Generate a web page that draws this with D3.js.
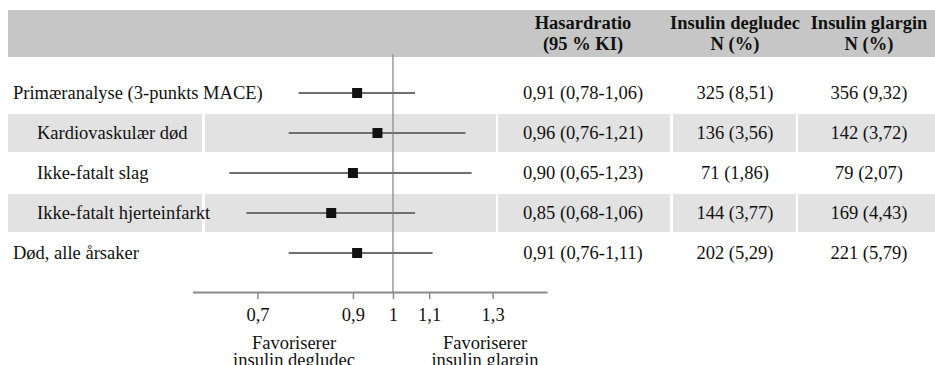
<!DOCTYPE html>
<html><head><meta charset="utf-8">
<script src="https://cdn.jsdelivr.net/npm/d3@7"></script>
<style>
html,body{margin:0;padding:0;background:#fff;}
svg text{font-family:'Liberation Serif','DejaVu Serif','Times New Roman',serif;}
</style></head>
<body><svg id="chart" width="935" height="365"></svg>
<script>
const labels = ["Primæranalyse (3-punkts MACE)", "Kardiovaskulær død", "Ikke-fatalt slag", "Ikke-fatalt hjerteinfarkt", "Død, alle årsaker"];
const indented = [false, true, true, true, false];
const hr = [0.91, 0.96, 0.90, 0.85, 0.91];
const ciLow = [0.78, 0.76, 0.65, 0.68, 0.76];
const ciHigh = [1.06, 1.21, 1.23, 1.06, 1.11];
const degludecN = [325, 136, 71, 144, 202];
const degludecPct = [8.51, 3.56, 1.86, 3.77, 5.29];
const glarginN = [356, 142, 79, 169, 221];
const glarginPct = [9.32, 3.72, 2.07, 4.43, 5.79];
const tickValues = [0.7, 0.9, 1, 1.1, 1.3];
const headers = [["Hasardratio", "(95 % KI)"], ["Insulin degludec", "N (%)"], ["Insulin glargin", "N (%)"]];
const favourLabels = [["Favoriserer", "insulin degludec"], ["Favoriserer", "insulin glargin"]];

const FONT = "Liberation Serif";
const loc = d3.formatLocale({decimal: ",", thousands: " ", grouping: [3], currency: ["", ""]});
const f2 = loc.format(".2f");
const fTick = v => String(v).replace(".", ",");

const svg = d3.select("#chart");
const FS = 18.5;

const x = d3.scaleLog().domain([0.59, 1.5]).range([192.5, 547]);
const y = d3.scaleBand().domain(d3.range(labels.length)).range([73, 273]);
const yc = i => y(i) + y.bandwidth() / 2;

const cols = [[8, 202], [205, 496], [498, 670], [673, 796], [798, 935]];
const colCenters = [583, 735, 869];

svg.append("rect").attr("x", 8).attr("y", 10).attr("width", 927).attr("height", 47).attr("fill", "#c6c6c6");

d3.range(labels.length).filter(i => i % 2 === 1).forEach(i => {
  cols.forEach(c => {
    svg.append("rect").attr("x", c[0]).attr("y", y(i) + 1).attr("width", c[1] - c[0]).attr("height", y.bandwidth() - 2).attr("fill", "#e2e2e2");
  });
});

headers.forEach((h, j) => {
  const t = svg.append("text").attr("text-anchor", "middle").attr("font-family", FONT)
    .attr("font-weight", "bold").attr("font-size", FS).attr("fill", "#111");
  t.append("tspan").attr("x", colCenters[j]).attr("y", 29).text(h[0]);
  t.append("tspan").attr("x", colCenters[j]).attr("y", 50).text(h[1]);
});

svg.append("line").attr("x1", x(1)).attr("x2", x(1)).attr("y1", 54).attr("y2", 292)
  .attr("stroke", "#9a9a9a").attr("stroke-width", 1.5);

const axis = d3.axisBottom(x).tickValues(tickValues).tickFormat(fTick).tickSizeOuter(0).tickSizeInner(7).tickPadding(9);
const gAx = svg.append("g").attr("transform", "translate(0,292)").call(axis)
  .attr("font-family", FONT).attr("font-size", FS);
gAx.select(".domain").attr("stroke", "#8a8a8a").attr("stroke-width", 2);
gAx.selectAll(".tick line").attr("stroke", "#8a8a8a").attr("stroke-width", 1.5);
gAx.selectAll(".tick text").attr("fill", "#111");

favourLabels.forEach((fl, j) => {
  const cx = j === 0 ? 294 : 485;
  const t = svg.append("text").attr("text-anchor", "middle").attr("font-family", FONT).attr("font-size", FS).attr("fill", "#111");
  t.append("tspan").attr("x", cx).attr("y", 349).text(fl[0]);
  t.append("tspan").attr("x", cx).attr("y", 366).text(fl[1]);
});

const rows = svg.append("g").attr("font-family", FONT).attr("font-size", FS)
  .selectAll("g").data(d3.range(labels.length)).join("g");
rows.append("text").attr("x", i => indented[i] ? 37 : 13).attr("y", i => yc(i)).attr("dy", "0.33em")
  .attr("fill", "#111").text(i => labels[i]);
rows.append("line").attr("x1", i => x(ciLow[i])).attr("x2", i => x(ciHigh[i]))
  .attr("y1", i => yc(i)).attr("y2", i => yc(i)).attr("stroke", "#707070").attr("stroke-width", 2);
rows.append("rect").attr("x", i => x(hr[i]) - 5).attr("y", i => yc(i) - 5).attr("width", 10).attr("height", 10).attr("fill", "#111");
rows.append("text").attr("x", colCenters[0]).attr("y", i => yc(i)).attr("dy", "0.33em").attr("text-anchor", "middle")
  .attr("fill", "#111").text(i => `${f2(hr[i])} (${f2(ciLow[i])}-${f2(ciHigh[i])})`);
rows.append("text").attr("x", colCenters[1]).attr("y", i => yc(i)).attr("dy", "0.33em").attr("text-anchor", "middle")
  .attr("fill", "#111").text(i => `${degludecN[i]} (${f2(degludecPct[i])})`);
rows.append("text").attr("x", colCenters[2]).attr("y", i => yc(i)).attr("dy", "0.33em").attr("text-anchor", "middle")
  .attr("fill", "#111").text(i => `${glarginN[i]} (${f2(glarginPct[i])})`);
</script></body></html>
